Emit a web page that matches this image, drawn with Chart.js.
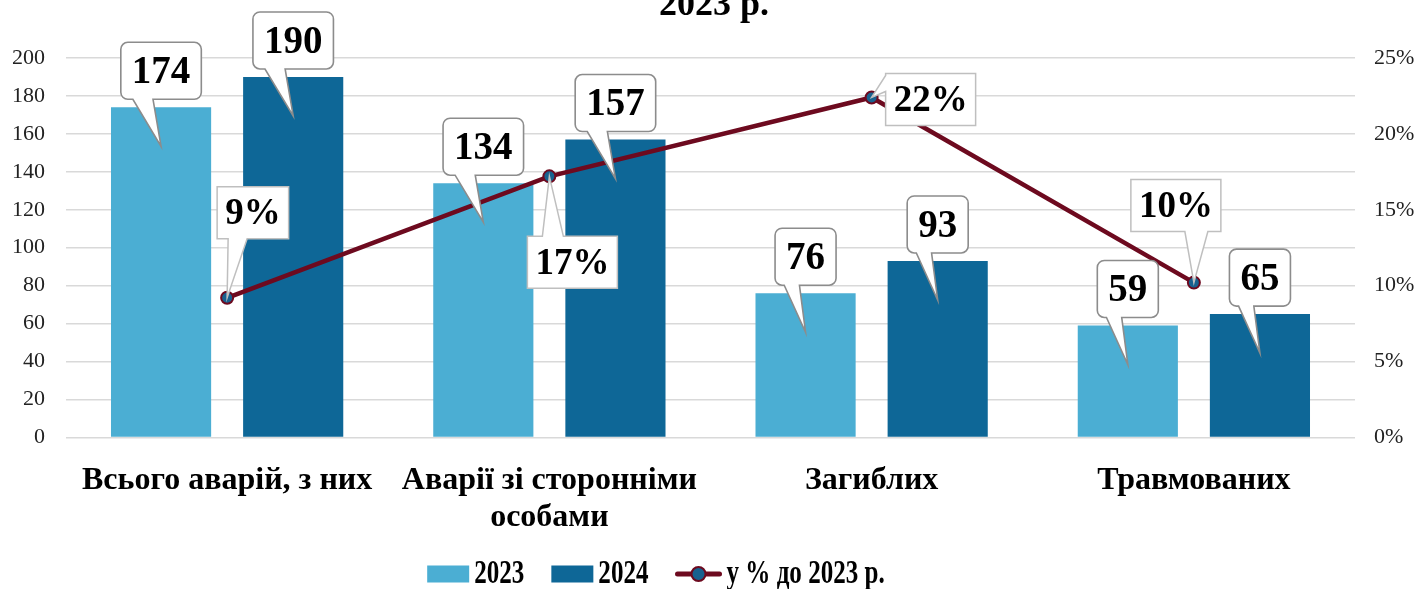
<!DOCTYPE html>
<html lang="uk">
<head>
<meta charset="utf-8">
<title>Аварії 2023–2024</title>
<script src="https://cdn.jsdelivr.net/npm/chart.js@4.4.1/dist/chart.umd.min.js"></script>
<style>
  html, body { margin: 0; padding: 0; background: #fff; overflow: hidden; }
  #wrap { width: 1418px; height: 589px; position: relative; }
  #accidentChart { display: block; }
</style>
</head>
<body>
<div id="wrap"><canvas id="accidentChart" width="1418" height="589"></canvas></div>
<script>
const categories = [
  "Всього аварій, з них",
  ["Аварії зі сторонніми", "особами"],
  "Загиблих",
  "Травмованих"
];
const values2023 = [174, 134, 76, 59];
const values2024 = [190, 157, 93, 65];
// зростання 2024 до 2023, %
const growthPct = [9.2, 17.2, 22.4, 10.2];

const leftTicks = { min: 0, max: 200, step: 20 };
const rightTicks = { min: 0, max: 25, step: 5 };

const titleTail = "2023 р.";
const legendNames = ["2023", "2024", "у % до 2023 р."];

const COLOR_2023 = "#4BAED3";
const COLOR_2024 = "#0E6797";
const COLOR_LINE = "#6D0A1F";
const COLOR_POINT = "#17618F";
const SERIF = "'Liberation Serif', 'Times New Roman', serif";

// розташування підписів лінії відносно точки: зсув рамки і бік, де хвостик
const lineLabelPlacement = [
  { dx: -10, dy: -111, side: "bottom", b1: 11, b2: 30 },
  { dx: -22, dy: 60, side: "top", b1: 15, b2: 36 },
  { dx: 14, dy: -24, side: "left", b1: 2, b2: 18 },
  { dx: -63, dy: -103, side: "bottom", b1: 54, b2: 77 }
];

function calloutPath(ctx, x, y, w, h, r, side, b1, b2, tx, ty) {
  ctx.beginPath();
  ctx.moveTo(x + r, y);
  if (side === "top") {
    ctx.lineTo(x + b1, y); ctx.lineTo(tx, ty); ctx.lineTo(x + b2, y);
  }
  ctx.lineTo(x + w - r, y);
  if (r) ctx.arcTo(x + w, y, x + w, y + r, r);
  ctx.lineTo(x + w, y + h - r);
  if (r) ctx.arcTo(x + w, y + h, x + w - r, y + h, r);
  if (side === "bottom") {
    ctx.lineTo(x + b2, y + h); ctx.lineTo(tx, ty); ctx.lineTo(x + b1, y + h);
  }
  ctx.lineTo(x + r, y + h);
  if (r) ctx.arcTo(x, y + h, x, y + h - r, r);
  if (side === "left") {
    ctx.lineTo(x, y + b2); ctx.lineTo(tx, ty); ctx.lineTo(x, y + b1);
  }
  ctx.lineTo(x, y + r);
  if (r) ctx.arcTo(x, y, x + r, y, r);
  ctx.closePath();
}

const calloutPlugin = {
  id: "callouts",
  afterDatasetsDraw(chart) {
    const ctx = chart.ctx;
    ctx.save();
    ctx.textAlign = "center";
    ctx.textBaseline = "middle";

    // підписи стовпців
    ctx.font = "bold 39px " + SERIF;
    [0, 1].forEach((di) => {
      const ds = chart.data.datasets[di];
      chart.getDatasetMeta(di).data.forEach((bar, i) => {
        const txt = String(ds.data[i]);
        const w = ctx.measureText(txt).width + 22;
        const h = 57;
        const bx = bar.x - w / 2;
        const by = bar.y - 8 - h;
        calloutPath(ctx, bx, by, w, h, 7, "bottom", w * 0.15, w * 0.4, bar.x, bar.y + 39);
        ctx.fillStyle = "#fff";
        ctx.fill();
        ctx.lineWidth = 1.6;
        ctx.strokeStyle = "#8C8C8C";
        ctx.stroke();
        ctx.fillStyle = "#000";
        ctx.fillText(txt, bar.x, by + h / 2 + 2);
      });
    });

    // підписи лінії
    ctx.font = "bold 37px " + SERIF;
    const lineDs = chart.data.datasets[2];
    chart.getDatasetMeta(2).data.forEach((pt, i) => {
      const p = lineLabelPlacement[i];
      const txt = Math.round(lineDs.data[i]) + "%";
      const w = ctx.measureText(txt).width + 16;
      const h = 52;
      const bx = pt.x + p.dx;
      const by = pt.y + p.dy;
      calloutPath(ctx, bx, by, w, h, 0, p.side, p.b1, p.b2, pt.x, pt.y);
      ctx.fillStyle = "#fff";
      ctx.fill();
      ctx.lineWidth = 1.5;
      ctx.strokeStyle = "#BFBFBF";
      ctx.stroke();
      ctx.fillStyle = "#000";
      ctx.fillText(txt, bx + w / 2, by + h / 2 + 2);
    });
    ctx.restore();
  }
};

const headerLegendPlugin = {
  id: "headerLegend",
  afterDraw(chart) {
    const ctx = chart.ctx;
    ctx.save();
    // хвіст заголовка, що виходить за верхній край
    ctx.fillStyle = "#000";
    ctx.font = "bold 36px " + SERIF;
    ctx.textAlign = "center";
    ctx.textBaseline = "alphabetic";
    ctx.fillText(titleTail, 714, 15);

    // легенда
    const squeeze = 0.76;
    ctx.font = "bold 33px " + SERIF;
    ctx.textAlign = "left";
    const y = 574;
    const items = [
      { kind: "box", color: COLOR_2023, text: legendNames[0], sym: 42 },
      { kind: "box", color: COLOR_2024, text: legendNames[1], sym: 42 },
      { kind: "line", text: legendNames[2], sym: 46 }
    ];
    const gap = 5, spacing = 27;
    let total = 0;
    items.forEach((it, k) => {
      it.tw = ctx.measureText(it.text).width * squeeze;
      total += it.sym + gap + it.tw + (k < items.length - 1 ? spacing : 0);
    });
    let x = 656 - total / 2;
    items.forEach((it) => {
      if (it.kind === "box") {
        ctx.fillStyle = it.color;
        ctx.fillRect(x, y - 8.5, it.sym, 17);
      } else {
        ctx.strokeStyle = COLOR_LINE;
        ctx.lineWidth = 5;
        ctx.lineCap = "round";
        ctx.beginPath();
        ctx.moveTo(x + 2, y);
        ctx.lineTo(x + it.sym - 2, y);
        ctx.stroke();
        ctx.beginPath();
        ctx.arc(x + it.sym / 2, y, 7, 0, Math.PI * 2);
        ctx.fillStyle = COLOR_POINT;
        ctx.fill();
        ctx.lineWidth = 2;
        ctx.stroke();
      }
      x += it.sym + gap;
      ctx.save();
      ctx.translate(x, 583);
      ctx.scale(squeeze, 1);
      ctx.fillStyle = "#000";
      ctx.fillText(it.text, 0, 0);
      ctx.restore();
      x += it.tw + spacing;
    });
    ctx.restore();
  }
};

const data = {
  labels: categories,
  datasets: [
    {
      type: "bar",
      label: legendNames[0],
      data: values2023,
      backgroundColor: COLOR_2023,
      yAxisID: "y",
      barPercentage: 0.758,
      categoryPercentage: 0.82,
      order: 1
    },
    {
      type: "bar",
      label: legendNames[1],
      data: values2024,
      backgroundColor: COLOR_2024,
      yAxisID: "y",
      barPercentage: 0.758,
      categoryPercentage: 0.82,
      order: 1
    },
    {
      type: "line",
      label: legendNames[2],
      data: growthPct,
      yAxisID: "yPct",
      borderColor: COLOR_LINE,
      borderWidth: 4.5,
      pointRadius: 6,
      pointBackgroundColor: COLOR_POINT,
      pointBorderColor: COLOR_LINE,
      pointBorderWidth: 2,
      tension: 0,
      order: 0
    }
  ]
};

const config = {
  type: "bar",
  data: data,
  plugins: [calloutPlugin, headerLegendPlugin],
  options: {
    responsive: false,
    animation: false,
    events: [],
    layout: { padding: { top: 58, left: 0, right: 0, bottom: 28 } },
    plugins: {
      legend: { display: false },
      title: { display: false },
      tooltip: { enabled: false }
    },
    scales: {
      x: {
        grid: { display: false, drawTicks: false },
        border: { display: false },
        ticks: {
          padding: 25,
          color: "#000",
          font: { family: SERIF, size: 32, weight: "bold", lineHeight: 1.15 }
        }
      },
      y: {
        position: "left",
        min: leftTicks.min,
        max: leftTicks.max,
        grid: { color: "#D9D9D9", lineWidth: 1.5, drawTicks: false },
        border: { display: false },
        // ширина осі задана вручну, щоб область графіка була 66–1355
        afterFit: (scale) => { scale.width = 66; },
        ticks: {
          stepSize: leftTicks.step,
          padding: 21,
          color: "#222",
          font: { family: SERIF, size: 22 }
        }
      },
      yPct: {
        position: "right",
        min: rightTicks.min,
        max: rightTicks.max,
        grid: { display: false, drawTicks: false },
        border: { display: false },
        afterFit: (scale) => { scale.width = 63; },
        ticks: {
          stepSize: rightTicks.step,
          padding: 19,
          color: "#222",
          font: { family: SERIF, size: 22 },
          callback: (v) => v + "%"
        }
      }
    }
  }
};

new Chart(document.getElementById("accidentChart").getContext("2d"), config);
</script>
</body>
</html>
